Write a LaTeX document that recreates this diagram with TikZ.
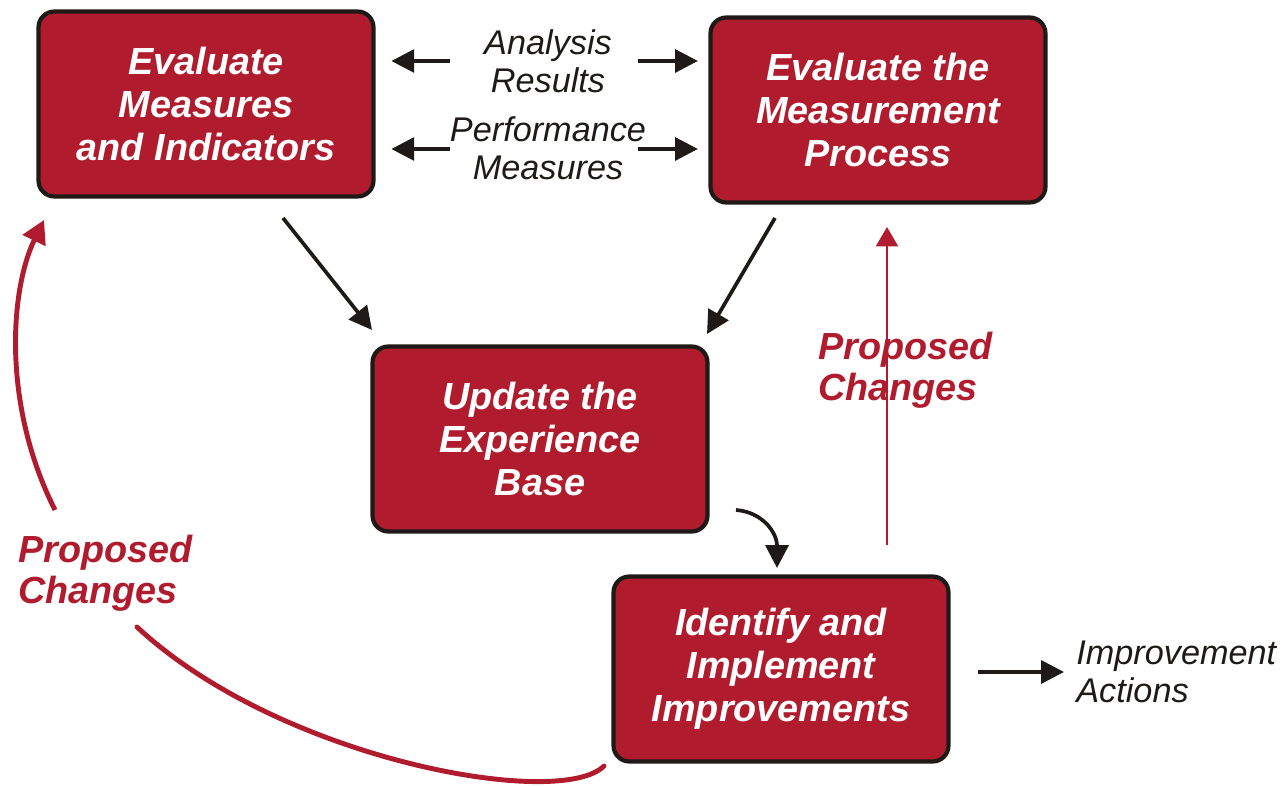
\documentclass[tikz,border=0pt]{standalone}
\usepackage{fontspec}
\setmainfont{Liberation Sans}
\usetikzlibrary{arrows.meta}
\definecolor{boxred}{HTML}{B01C2E}
\definecolor{ink}{HTML}{1F1A17}
\tikzset{
  procbox/.style={draw=ink, line width=2.4pt, fill=boxred, rounded corners=9pt,
    minimum width=6.7cm, minimum height=3.7cm, align=center, text=white,
    font=\fontsize{21.5}{24.4}\selectfont\bfseries\itshape},
  flowlabel/.style={align=center, text=ink, inner sep=0pt,
    font=\fontsize{19.5}{21.6}\selectfont\itshape},
  redlabel/.style={align=left, text=boxred, inner sep=0pt,
    font=\fontsize{21.5}{23.6}\selectfont\bfseries\itshape},
  blackarrow/.style={draw=ink, line width=2.1pt, -{Triangle[length=13pt,width=13pt]}},
  redarrow/.style={draw=boxred, line width=1.2pt, -{Triangle[length=11pt,width=12.5pt]}},
  redcurve/.style={draw=boxred, line width=2.8pt},
}
\begin{document}
\begin{tikzpicture}[x=0.02cm,y=-0.02cm]
\useasboundingbox (0,0) rectangle (1285,786);
% boxes
\node[procbox] (A) at (206,104) {Evaluate\\Measures\\and Indicators};
\node[procbox] (B) at (878,110) {Evaluate the\\Measurement\\Process};
\node[procbox] (C) at (540,439) {Update the\\Experience\\Base};
\node[procbox] (D) at (781,669) {Identify and\\Implement\\Improvements};
% middle labels
\node[flowlabel] (L1) at (548,61) {Analysis\\Results};
\node[flowlabel] (L2) at (548,148) {Performance\\Measures};
\node[flowlabel, align=left, anchor=west] (L3) at (1076,672) {Improvement\\Actions};
\node[redlabel, anchor=west] (R1) at (818,370) {Proposed\\Changes};
\node[redlabel, anchor=west] (R2) at (18,573) {Proposed\\Changes};
% horizontal arrows
\coordinate (a1l) at (450,61);
\coordinate (a1r) at (638,61);
\coordinate (a2l) at (450,149);
\coordinate (a2r) at (638,149);
\draw[blackarrow, shorten >=9pt] (a1l) -- (A.east |- a1l);
\draw[blackarrow, shorten >=6pt] (a1r) -- (B.west |- a1r);
\draw[blackarrow, shorten >=9pt] (a2l) -- (A.east |- a2l);
\draw[blackarrow, shorten >=6pt] (a2r) -- (B.west |- a2r);
% diagonal arrows
\coordinate (dA) at (283,218);
\coordinate (dAt) at (372,330);
\coordinate (dB) at (775,218);
\coordinate (dBt) at (707,334);
\draw[blackarrow] (dA) -- (dAt);
\draw[blackarrow] (dB) -- (dBt);
% small curved arrow C -> D
\coordinate (cs) at (736,510);
\coordinate (ce) at (777,568);
\draw[blackarrow] (cs) .. controls (762,512) and (777,532) .. (ce);
% improvement actions arrow
\coordinate (ia) at (978,672);
\draw[blackarrow] (ia) -- (L3.west -| 1064,0);
% red vertical arrow D -> B
\coordinate (rv) at (887,545);
\draw[redarrow] (rv) -- (887,227);
% big red curve D -> A
\coordinate (bs) at (604,766);
\coordinate (bm) at (137,627);
\coordinate (bn) at (55,510);
\coordinate (bt) at (44,220);
\draw[redcurve, line cap=round] (bs) .. controls (560,810) and (280,760) .. (bm);
\draw[redcurve, -{Triangle[length=13pt,width=14pt]}] (bn) .. controls (2,405) and (10,290) .. (bt);
\end{tikzpicture}
\end{document}
